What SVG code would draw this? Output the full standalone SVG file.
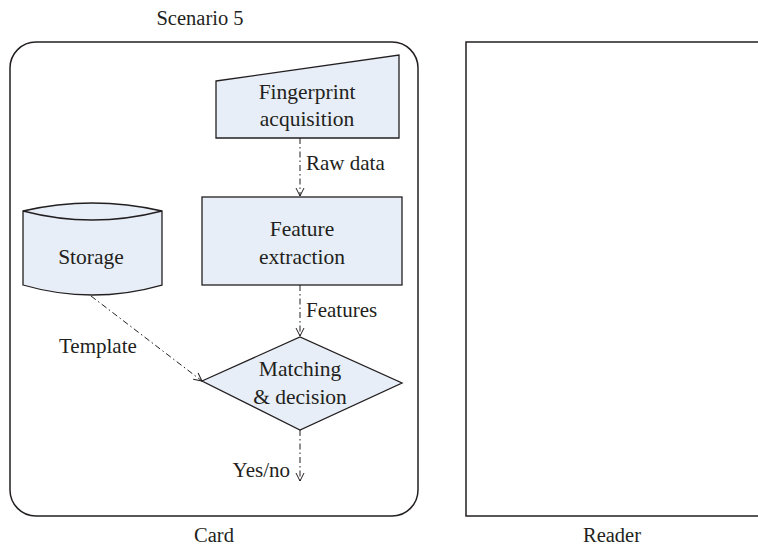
<svg xmlns="http://www.w3.org/2000/svg" width="758" height="548" viewBox="0 0 758 548">
<style>
text{font-family:"Liberation Serif","DejaVu Serif",serif;fill:#231f20;}
.lbl{font-size:21.5px;text-anchor:middle;}
.cap{font-size:20.5px;text-anchor:middle;}
.edge{font-size:21px;}
.shape{fill:#e7eef7;stroke:#231f20;stroke-width:1.3;}
.frame{fill:#fff;stroke:#231f20;stroke-width:1.5;}
.conn{fill:none;stroke:#231f20;stroke-width:1;stroke-dasharray:6 3 1.5 3;}
</style>
<defs>
<marker id="arr" viewBox="0 0 10 10" refX="9" refY="5" markerWidth="10" markerHeight="10" markerUnits="userSpaceOnUse" orient="auto">
<polyline points="1,1 9,5 1,9" fill="none" stroke="#231f20" stroke-width="1"/>
</marker>
</defs>
<rect width="758" height="548" fill="#fff"/>
<text class="cap" x="200" y="25">Scenario 5</text>
<g id="card">
<rect class="frame" x="10" y="42" width="408" height="474" rx="26" ry="26"/>
<text class="cap" x="214" y="542">Card</text>
</g>
<g id="reader">
<path d="M760,42 H466 V516 H760" fill="#fff" stroke="#231f20" stroke-width="1.5"/>
<text class="cap" x="612" y="542">Reader</text>
</g>
<g id="acquisition">
<polygon class="shape" points="216,81 399,55 399,138 216,138"/>
<text class="lbl" x="307" y="99">Fingerprint</text>
<text class="lbl" x="307" y="126">acquisition</text>
</g>
<g id="extraction">
<rect class="shape" x="202" y="197" width="200" height="88"/>
<text class="lbl" x="302" y="236">Feature</text>
<text class="lbl" x="302" y="264">extraction</text>
</g>
<g id="storage">
<path class="shape" d="M23,211 Q92,195 162,211 V285 Q92,305 23,285 Z"/>
<path d="M23,211 Q92,229 162,211" fill="none" stroke="#231f20" stroke-width="1.3"/>
<text class="lbl" x="91" y="264">Storage</text>
</g>
<g id="matching">
<polygon class="shape" points="202,381 300,337 402,383 300,430"/>
<text class="lbl" x="300" y="376">Matching</text>
<text class="lbl" x="300" y="404">&amp; decision</text>
</g>
<g id="connectors">
<line class="conn" x1="300" y1="138" x2="300" y2="196" marker-end="url(#arr)"/>
<line class="conn" x1="300" y1="285" x2="300" y2="336" marker-end="url(#arr)"/>
<line class="conn" x1="91" y1="296" x2="202" y2="381" marker-end="url(#arr)"/>
<line class="conn" x1="300" y1="430" x2="300" y2="481" marker-end="url(#arr)"/>
<text class="edge" x="306" y="170">Raw data</text>
<text class="edge" x="306" y="317">Features</text>
<text class="edge" x="59" y="353">Template</text>
<text class="edge" x="290" y="477" text-anchor="end">Yes/no</text>
</g>
</svg>
